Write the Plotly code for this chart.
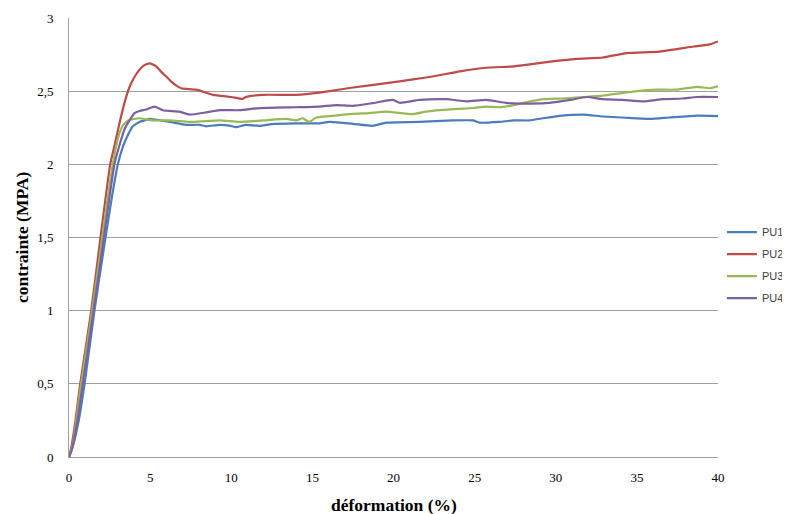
import plotly.graph_objects as go

# PU1 (blue)
pu1_x = [0, 0.2, 0.6, 0.96, 1.57, 2.25, 2.65, 3.01, 3.32, 3.63, 3.93, 4.35, 4.65, 4.96, 6.2, 7.22,
         8.05, 8.46, 9.28, 9.9, 10.3, 10.9, 11.74, 12.5, 14.0, 15.44, 16.06, 17.5, 18.7, 19.56,
         21.6, 23.66, 24.9, 25.3, 26.5, 27.4, 28.4, 29.2, 30.4, 31.7, 32.9, 34.1, 35.8, 37.0,
         38.7, 40.0]
pu1_y = [0, 0.06, 0.25, 0.5, 1.0, 1.5, 1.78, 2.0, 2.12, 2.20, 2.26, 2.29, 2.30, 2.31, 2.29, 2.27,
         2.27, 2.26, 2.27, 2.265, 2.254, 2.27, 2.263, 2.275, 2.28, 2.28, 2.29, 2.277, 2.263, 2.285,
         2.29, 2.30, 2.30, 2.285, 2.29, 2.30, 2.30, 2.315, 2.333, 2.34, 2.327, 2.32, 2.31, 2.32,
         2.333, 2.33]

# PU2 (red)
pu2_x = [0, 0.15, 0.4, 0.69, 1.37, 1.94, 2.54, 2.81, 3.11, 3.42, 3.7, 4.0, 4.3, 4.6, 4.96, 5.37,
         5.7, 5.99, 6.3, 6.6, 6.92, 7.84, 8.87, 10.0, 10.72, 10.9, 11.95, 14.0, 15.44, 16.06, 17.5,
         19.56, 21.2, 22.4, 24.1, 25.7, 27.2, 27.8, 29.2, 31.3, 32.9, 34.35, 36.4, 38.5, 39.5, 40.0]
pu2_y = [0, 0.07, 0.25, 0.5, 1.0, 1.5, 2.0, 2.13, 2.28, 2.42, 2.52, 2.59, 2.64, 2.675, 2.69, 2.67,
         2.63, 2.60, 2.565, 2.54, 2.52, 2.51, 2.475, 2.46, 2.447, 2.46, 2.475, 2.475, 2.49, 2.50, 2.525,
         2.555, 2.58, 2.60, 2.635, 2.66, 2.668, 2.675, 2.695, 2.72, 2.73, 2.76, 2.77, 2.805, 2.82, 2.84]

# PU3 (green)
pu3_x = [0, 0.2, 0.45, 0.75, 1.43, 2.05, 2.4, 2.7, 2.9, 3.1, 3.35, 3.65, 4.0, 4.35, 5.17, 6.2, 7.63,
         9.28, 10.5, 11.95, 13.4, 14.0, 14.4, 14.8, 15.24, 16.06, 17.5, 18.5, 19.56, 21.2, 22.0,
         23.66, 24.9, 25.7, 26.5, 27.2, 28.0, 29.2, 30.4, 31.7, 32.9, 35.0, 36.2, 37.4, 38.7, 39.5, 40.0]
pu3_y = [0, 0.07, 0.25, 0.5, 1.0, 1.5, 1.78, 2.0, 2.12, 2.21, 2.27, 2.30, 2.31, 2.315, 2.30, 2.30, 2.29,
         2.30, 2.29, 2.30, 2.31, 2.30, 2.315, 2.29, 2.32, 2.33, 2.345, 2.35, 2.36, 2.343, 2.36,
         2.377, 2.385, 2.395, 2.39, 2.40, 2.42, 2.445, 2.45, 2.46, 2.47, 2.50, 2.51, 2.51, 2.53, 2.52, 2.535]

# PU4 (purple)
pu4_x = [0, 0.2, 0.52, 0.85, 1.51, 2.15, 2.5, 2.8, 3.11, 3.42, 3.73, 4.04, 4.35, 4.76, 5.27, 5.78,
         6.81, 7.43, 8.46, 9.28, 10.5, 11.74, 14.0, 15.44, 16.5, 17.5, 18.7, 19.97, 20.4, 21.6, 23.25,
         24.5, 25.7, 26.95, 27.8, 28.4, 29.6, 30.9, 31.9, 32.9, 34.1, 35.4, 36.6, 37.8, 38.7, 40.0]
pu4_y = [0, 0.06, 0.25, 0.5, 1.0, 1.5, 1.78, 2.0, 2.13, 2.24, 2.30, 2.35, 2.365, 2.375, 2.395, 2.37,
         2.36, 2.34, 2.355, 2.37, 2.37, 2.384, 2.39, 2.395, 2.405, 2.40, 2.418, 2.44, 2.42, 2.44, 2.445,
         2.43, 2.44, 2.42, 2.415, 2.415, 2.42, 2.44, 2.46, 2.445, 2.44, 2.43, 2.445, 2.45, 2.46, 2.46]

series = [
    ("PU1", pu1_x, pu1_y, "#4A7EBB"),
    ("PU2", pu2_x, pu2_y, "#BE4B48"),
    ("PU3", pu3_x, pu3_y, "#98B954"),
    ("PU4", pu4_x, pu4_y, "#7D60A0"),
]

x_ticks = [0, 5, 10, 15, 20, 25, 30, 35, 40]
y_ticks = [0, 0.5, 1, 1.5, 2, 2.5, 3]
x_title = "déformation (%)"
y_title = "contrainte (MPA)"

fig = go.Figure()
for name, xs, ys, col in series:
    fig.add_trace(go.Scatter(x=xs, y=ys, name=name, mode="lines",
                             line=dict(color=col, width=2.2, shape="spline", smoothing=0.5),
                             legendgroup=name))

serif = "Liberation Serif, Times New Roman, serif"
fig.update_layout(
    width=790, height=514,
    margin=dict(l=61, r=80, t=10, b=65, autoexpand=False),
    paper_bgcolor="white", plot_bgcolor="white",
    separators=", ",
    showlegend=True,
    legend=dict(x=1.006, xanchor="left", y=0.437, yanchor="middle",
                font=dict(family="Liberation Sans, Arial, sans-serif", size=11, color="#404040"),
                tracegroupgap=3, bgcolor="rgba(0,0,0,0)"),
    xaxis=dict(range=[0, 40], tickvals=x_ticks, showgrid=False, zeroline=False, automargin=False,
               showline=True, linecolor="#a0a0a0", linewidth=1,
               ticks="", ticklabelstandoff=8,
               tickfont=dict(family=serif, size=13, color="black")),
    yaxis=dict(range=[0, 3], tickvals=y_ticks, showgrid=True, gridcolor="#a0a0a0", gridwidth=1,
               zeroline=False, showline=True, linecolor="#a0a0a0", linewidth=1, automargin=False,
               ticks="", ticklabelstandoff=12,
               tickfont=dict(family=serif, size=13, color="black")),
    annotations=[
        dict(text="<b>" + x_title + "</b>", xref="paper", yref="paper", x=0.5, y=-0.109,
             xanchor="center", yanchor="middle", showarrow=False,
             font=dict(family=serif, size=17.5, color="black")),
        dict(text="<b>" + y_title + "</b>", xref="paper", yref="paper", x=-0.0724, y=0.501,
             xanchor="center", yanchor="middle", showarrow=False, textangle=-90,
             font=dict(family=serif, size=17.5, color="black")),
    ],
)

fig.write_html("out.html")
